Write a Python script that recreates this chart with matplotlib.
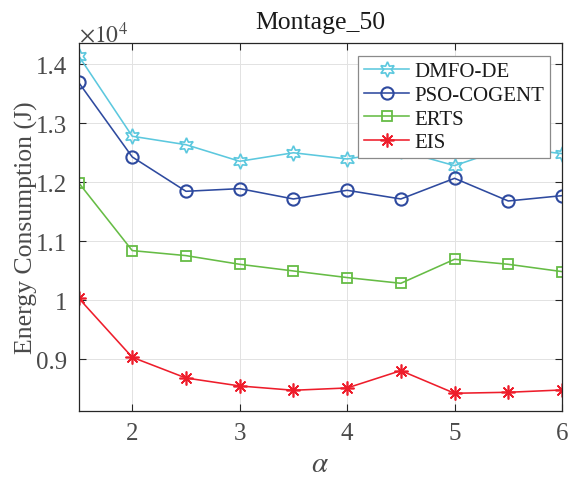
import matplotlib
matplotlib.use("Agg")
import matplotlib.pyplot as plt
from matplotlib.ticker import FuncFormatter, MultipleLocator

plt.rcParams['font.family'] = ['Liberation Serif', 'DejaVu Serif']
plt.rcParams['mathtext.fontset'] = 'stix'

alpha = [1.5, 2, 2.5, 3, 3.5, 4, 4.5, 5, 5.5, 6]
dmfo_de = [14146, 12780, 12637, 12356, 12500, 12395, 12536, 12282, 12590, 12486]
pso_cogent = [13695, 12429, 11847, 11892, 11717, 11864, 11717, 12067, 11683, 11773]
erts = [11995, 10842, 10757, 10610, 10497, 10385, 10288, 10695, 10610, 10486]
eis = [10039, 9034, 8683, 8548, 8475, 8514, 8808, 8424, 8441, 8480]
labels = ['DMFO-DE', 'PSO-COGENT', 'ERTS', 'EIS']

colors = ['#5CC8DE', '#2E4A9F', '#66BC45', '#EE1D2B']
scale = 1e4

fig = plt.figure(figsize=(5.69, 4.81), dpi=100)
ax = fig.add_axes([0.138, 0.1435, 0.8497, 0.7645])

ax.plot(alpha, [v / scale for v in dmfo_de], color=colors[0], lw=1.15,
        marker=(6, 1, 0), ms=11, mfc='none', mew=1.2, label=labels[0])
ax.plot(alpha, [v / scale for v in pso_cogent], color=colors[1], lw=1.15,
        marker='o', ms=8.8, mfc='none', mew=1.5, label=labels[1])
ax.plot(alpha, [v / scale for v in erts], color=colors[2], lw=1.15,
        marker='s', ms=7.4, mfc='none', mew=1.3, label=labels[2])
ax.plot(alpha, [v / scale for v in eis], color=colors[3], lw=1.15,
        marker=(8, 2, 0), ms=10, mfc='none', mew=1.2, label=labels[3])

ax.set_xlim(1.5, 6)
ax.set_ylim(0.8124, 1.4356)
ax.xaxis.set_major_locator(MultipleLocator(1))
ax.yaxis.set_major_locator(MultipleLocator(0.1))
ax.yaxis.set_major_formatter(FuncFormatter(lambda v, p: '%g' % round(v, 3)))

axcol = '#262626'
for s in ax.spines.values():
    s.set_color(axcol)
    s.set_linewidth(0.9)
ax.tick_params(direction='in', length=5, width=0.8, colors=axcol,
               labelcolor='#4a4a4a', labelsize=18, top=True, right=True, pad=8)
ax.grid(True, color='#e2e2e2', lw=0.7)
ax.set_axisbelow(True)

ax.set_title('Montage_50', fontsize=18.5, color='#1a1a1a', pad=11)
ax.set_ylabel('Energy Consumption (J)', fontsize=18.5, color='#4a4a4a', labelpad=-1)
ax.set_xlabel(r'$\alpha$', fontsize=21, color='#4a4a4a', labelpad=5)
ax.text(0.0, 0.992, r'$\times10^{4}$', transform=ax.transAxes, fontsize=17,
        color='#4a4a4a', ha='left', va='bottom')

leg = ax.legend(loc='upper right', bbox_to_anchor=(0.975, 0.966), borderaxespad=0,
                fontsize=15, frameon=True, fancybox=False, framealpha=1,
                edgecolor='#8a8a8a', handlelength=2.15, handletextpad=0.25,
                labelspacing=0.2, borderpad=0.28)
leg.get_frame().set_linewidth(0.9)
for t in leg.get_texts():
    t.set_color('#1a1a1a')

fig.savefig('out.png', dpi=100)
